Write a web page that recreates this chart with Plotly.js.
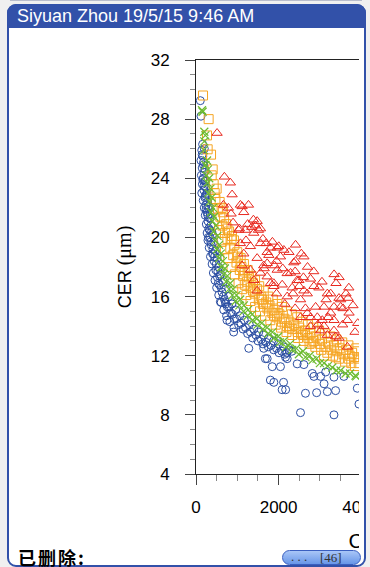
<!DOCTYPE html>
<html>
<head>
<meta charset="utf-8">
<script src="https://cdn.plot.ly/plotly-3.0.1.min.js"></script>
<style>
  html, body { margin:0; padding:0; }
  body { width:370px; height:567px; overflow:hidden; position:relative; background:#f0f0f0; font-family:'Liberation Sans', Arial, sans-serif; }
  #topline { position:absolute; left:10px; top:0px; width:352px; height:1px; background:#b9bdcc; }
  #panel { position:absolute; left:7px; top:4px; width:359px; height:563px; box-sizing:border-box; border:2px solid #3251a9; border-radius:9px; background:#fff; }
  #header { position:absolute; left:7px; top:4px; width:359px; height:24px; background:#3251a9; border-radius:9px 9px 0 0; color:#fff; font-size:18px; line-height:24px; padding-left:10px; box-sizing:border-box; white-space:nowrap; }
  #clip { position:absolute; left:0; top:0; width:359px; height:567px; overflow:hidden; }
  #chart { position:absolute; left:0; top:0; width:700px; height:567px; }
  #deleted { position:absolute; left:18px; top:548px; font-family:'Noto Sans CJK SC', sans-serif; font-weight:bold; font-size:18px; line-height:18px; letter-spacing:2px; color:#000; }
  #pill { position:absolute; left:282px; top:550px; width:79px; height:15px; box-sizing:border-box; border:1px solid #3a5fc0; border-radius:8px; background:linear-gradient(#a9c6f7,#6896e8); font-family:'Liberation Serif', serif; font-size:13px; line-height:13px; color:#333; }
</style>
</head>
<body>
<div id="topline"></div>
<div id="panel"></div>
<div id="header">Siyuan Zhou 19/5/15 9:46 AM</div>
<div id="clip"><div id="chart"></div></div>
<div id="deleted">已删除:</div>
<div id="pill"><span style="position:absolute;left:8px;top:-1px;">. . .</span><span style="position:absolute;left:37px;top:0px;">[46]</span></div>
<script>
// [x, y] pairs
const bluePoints = [
  [104,29.25],[121,28.2],[201,26.0],[150,25.6],
  [140,25.9],[165,25.5],[120,25.2],[180,24.9],[150,24.7],[200,24.4],[130,24.2],[175,24.0],[210,23.8],[155,23.6],
  [230,23.4],[190,23.2],[140,23.0],[250,22.9],[215,22.7],[175,22.5],[280,22.4],[240,22.2],[200,22.0],[310,21.9],
  [265,21.7],[225,21.5],[330,21.3],[290,21.1],[250,20.9],[360,20.8],[310,20.6],[270,20.3],[400,20.2],[340,20.0],
  [290,19.8],[430,19.7],[370,19.5],[320,19.3],[470,19.1],[400,18.9],[350,18.7],[510,18.6],[440,18.4],[390,18.2],
  [550,18.0],[480,17.8],[420,17.6],[600,17.5],[520,17.3],[460,17.1],[660,17.0],[570,16.8],[500,16.6],[720,16.5],
  [630,16.3],[550,16.1],[790,16.0],[690,15.8],[610,15.6],[870,15.5],[760,15.3],[670,15.1],[960,15.1],[840,14.9],
  [740,14.7],[1060,14.7],[930,14.5],[820,14.3],[1170,14.4],[1030,14.1],[920,13.9],[1290,14.1],[1140,13.8],[1400,13.8],
  [1250,13.5],[1520,13.6],[1370,13.2],[1640,13.4],[1500,13.0],[1760,13.2],[1620,12.8],[1880,13.0],[1750,12.6],[2000,12.8],
  [1880,12.4],[2120,12.6],[2010,12.2],[2250,12.4],[2150,12.1],
  [160,26.3],[185,25.1],[215,24.6],[165,23.9],[235,23.8],[195,23.5],[265,23.0],[225,22.8],[300,22.1],[245,21.9],
  [285,21.5],[345,21.6],[330,20.5],[380,20.4],[300,20.0],[360,19.7],[410,19.2],[450,18.7],[420,18.9],[490,18.2],
  [530,17.7],[570,17.4],[540,16.9],[610,16.6],[660,16.0],[720,15.5],[800,15.3],[880,14.8],[980,14.5],[1090,14.2],
  [1200,13.9],[1320,13.6],[1450,13.4],[1580,13.1],[1700,12.9],[1820,12.7],[1950,12.5],[2080,12.3],[2200,12.2],[2320,12.3],
  [590,15.65],[711,15.65],[750,14.4],[912,13.6],[1277,12.5],[1640,12.5],[1680,11.8],[1723,11.8],[1845,11.26],[2045,11.26],
  [2167,11.9],[2208,11.8],[2450,11.45],[2612,11.4],[2815,10.8],[2855,10.6],[3017,10.6],[3140,10.9],[3340,10.55],[3580,10.6],
  [3905,9.8],[1800,10.35],[1885,10.2],[2120,10.2],[2085,9.7],[2170,9.7],[2650,9.46],[2920,9.5],[3180,9.57],[3380,9.64],
  [3100,10.1],[2530,8.15],[3340,8.0],[3945,8.73]
];
const greenPoints = [
  [145,28.6],[160,28.5],[201,27.15],[226,26.9],[201,26.5],[190,25.9],[267,25.2],[230,24.9],[290,24.6],[250,24.2],
  [320,24.0],[280,23.7],[350,23.3],[300,23.0],[380,22.7],[330,22.4],[410,22.0],[360,21.7],[440,21.4],[400,21.1],
  [480,20.8],[430,20.4],[520,20.1],[470,19.8],[560,19.5],[510,19.2],[600,18.9],[560,18.6],[650,18.4],[610,18.0],
  [700,17.9],[670,17.5],[760,17.4],[730,17.0],[830,16.9],[800,16.5],[900,16.5],[880,16.1],[980,16.1],[960,15.7],
  [1070,15.8],[1050,15.4],[1160,15.4],[1150,15.0],[1260,15.1],[1250,14.7],[1360,14.8],[1370,14.4],[1470,14.5],[1490,14.1],
  [1590,14.2],[1620,13.8],[1720,13.9],[1750,13.5],[1850,13.6],[1890,13.2],[1990,13.3],[2030,12.9],[2130,13.0],[2180,12.6],
  [2280,12.8],[2330,12.4],[2430,12.5],[2490,12.1],[2590,12.3],[2650,11.9],[2750,12.0],[2820,11.7],[2920,11.8],[3000,11.5],
  [3100,11.5],[3190,11.3],[3300,11.2],[3400,11.0],[3500,11.0],[3620,10.8],[3730,10.8],[3860,10.65],[3880,10.6]
];
const orangePoints = [
  [170,29.6],[306,28.0],[267,26.9],[282,25.96],[364,25.6],[404,24.6],[428,23.6],[452,23.0],[380,24.2],[500,23.3],
  [470,22.6],[573,22.4],[530,21.9],[620,22.0],[590,21.4],[680,21.3],[640,20.8],[730,20.9],[560,20.5],[700,20.3],
  [800,20.4],[760,19.9],[620,19.7],[860,19.9],[830,19.3],[700,19.2],[930,19.5],[900,18.8],[780,18.6],[1000,19.0],
  [980,18.3],[860,18.0],[1080,18.6],[1060,17.8],[940,17.5],[1160,18.2],[1140,17.4],[1030,16.9],[1250,17.8],[1230,17.0],
  [1120,16.5],[1340,17.4],[1320,16.6],[1220,16.1],[1430,17.1],[1420,16.2],[1320,15.7],[1530,16.7],[1520,15.8],[1430,15.3],
  [1640,16.4],[1620,15.5],[1550,15.0],[1750,16.0],[1730,15.2],[1670,14.7],[1860,15.8],[1850,14.9],[1800,14.4],[1970,15.5],
  [1960,14.6],[1930,14.1],[2080,15.3],[2080,14.3],[2060,13.9],[2200,15.0],[2200,14.0],[2190,13.6],[2320,14.8],[2330,13.8],
  [2330,13.4],[2450,14.6],[2460,13.6],[2470,13.2],[2580,14.3],[2590,13.4],[2610,13.0],[2710,14.1],[2720,13.2],[2750,12.8],
  [2840,13.9],[2850,13.0],[2890,12.6],[2980,13.7],[3000,12.8],[3030,12.4],[3120,13.5],[3140,12.6],[3180,12.2],[3260,13.3],
  [3280,12.4],[3320,12.0],[3400,13.1],[3420,12.3],[3460,11.8],[3540,12.9],[3570,12.1],[3610,11.6],[3690,12.7],[3720,12.0],
  [3760,11.5],[3830,11.9],[3850,11.3],[3905,12.3],[3880,12.5],
  [650,21.7],[760,20.6],[870,20.1],[920,19.8],[1020,18.7],[1100,18.0],[1180,17.7],[1280,17.3],[1380,16.9],[1480,16.5],
  [1580,16.0],[1700,15.6],[1780,15.4],[1900,15.1],[2020,14.8],[2140,14.5],[2260,14.3],[2380,14.1],[2500,13.9],[2640,13.7],
  [2770,13.5],[2900,13.3],[3050,13.1],[3200,12.9],[3340,12.7],[3480,12.5],[3630,12.4],[3780,12.2],[3940,11.8],[1180,16.8],
  [1380,16.4],[1600,15.8],[1900,14.7],[2250,13.9],[2550,13.5],[2800,12.9],[3100,12.0],[3380,11.9],[3700,11.8],[3940,11.5]
];
const redPoints = [
  [510,27.06],[687,24.1],[832,23.7],[874,22.9],[663,22.2],[784,22.0],[850,21.6],[898,21.0],[1051,20.6],[1075,22.2],
  [1116,22.1],[1270,22.2],[1156,21.7],[1390,21.2],[1480,21.1],[1440,20.8],[1512,20.5],[1561,20.6],[1196,20.5],[1035,20.5],
  [1398,20.3],[1075,19.6],[1561,19.6],[1318,19.4],[1803,19.3],[1763,18.8],[1966,19.3],[1480,18.6],[1156,18.9],[1723,19.0],
  [1116,18.1],[1318,17.8],[1561,17.6],[1723,17.35],[1400,17.1],[1884,16.7],[1480,16.4],[2005,19.4],[2127,19.15],[2410,19.5],
  [2046,18.7],[2410,18.4],[2612,18.7],[2369,18.3],[1723,18.25],[1966,17.8],[2208,17.57],[2289,17.6],[2490,17.1],[2450,17.1],
  [2774,17.2],[2976,16.6],[2329,16.6],[2087,16.8],[1803,16.9],[1884,16.9],[2208,16.0],[2612,16.4],[2694,16.2],[2855,16.7],
  [3180,16.2],[3260,16.2],[3462,15.9],[3502,15.8],[3502,15.3],[3705,14.9],[3665,14.4],[3340,14.4],[2896,15.3],[3098,15.3],
  [3340,15.3],[2531,15.8],[2774,14.6],[2694,14.87],[2531,14.6],[2937,14.6],[3058,14.4],[3260,14.9],[3098,14.0],[2774,14.0],
  [3017,13.7],[3340,13.7],[3180,13.4],[3380,13.3],[3462,13.2],[3665,12.6],[3343,17.5],[3464,17.3],[3390,16.9],[3630,16.2],
  [3700,16.6],[3680,15.9],[3560,15.2],[3915,14.2],[1210,19.8],[1640,18.1],[1900,18.1],
  [1250,20.9],[1350,20.7],[1620,19.9],[1700,19.6],[1850,19.7],[2250,19.0],[2550,18.9],[2700,18.0],[1650,17.9],[1950,18.4],
  [2100,17.9],[2400,17.7],[2600,17.3],[2850,17.7],[3050,17.0],[2350,16.2],[2500,16.7],[3150,15.8],[2650,15.2],[2950,14.1],
  [3200,14.6],[3550,14.1],[3800,15.4],[3850,13.6],[1950,16.2],[2150,15.5],[2400,15.2]
];
const yTickVals = [4, 8, 12, 16, 20, 24, 28, 32];
const xTickVals = [0, 2000, 4000, 6000, 8000, 10000];

function xs(a){ return a.map(p => p[0]); }
function ys(a){ return a.map(p => p[1]); }

const traces = [
  { x: xs(bluePoints), y: ys(bluePoints), mode:'markers', type:'scatter', name:'blue',
    marker:{ symbol:'circle-open', size:8, color:'#2c4fa3', line:{ width:1, color:'#2c4fa3' } } },
  { x: xs(orangePoints), y: ys(orangePoints), mode:'markers', type:'scatter', name:'orange',
    marker:{ symbol:'square-open', size:9, color:'#f6a523', line:{ width:1, color:'#f6a523' } } },
  { x: xs(greenPoints), y: ys(greenPoints), mode:'markers', type:'scatter', name:'green',
    marker:{ symbol:'x-thin-open', size:8, color:'#6cbb2f', line:{ width:1.2, color:'#6cbb2f' } } },
  { x: xs(redPoints), y: ys(redPoints), mode:'markers', type:'scatter', name:'red',
    marker:{ symbol:'triangle-up-open', size:9, color:'#e8291f', line:{ width:1, color:'#e8291f' } } }
];

const layout = {
  width: 700, height: 567,
  margin: { l:196, r:74, t:60, b:93 },
  paper_bgcolor:'rgba(0,0,0,0)', plot_bgcolor:'rgba(0,0,0,0)',
  showlegend:false,
  font:{ family:'Liberation Sans, Arial, sans-serif', size:17, color:'#000' },
  xaxis:{
    range:[0,10410], tickmode:'array', tickvals:xTickVals, ticktext:xTickVals.map(String),
    ticks:'outside', ticklen:10, tickwidth:1, tickcolor:'#444',
    showline:true, linecolor:'#222', linewidth:1, mirror:true,
    showgrid:false, zeroline:false, ticklabelstandoff:8,
    minor:{ dtick:500, tick0:0, ticks:'outside', ticklen:6, tickwidth:1, tickcolor:'#888', showgrid:false },
    tickfont:{ size:17 },
    title:{ text:'CDNC (cm<sup>−3</sup>)', font:{ size:21 }, standoff:16 },
    automargin:false
  },
  yaxis:{
    range:[4,32], tickmode:'array', tickvals:yTickVals, ticktext:yTickVals.map(String),
    ticks:'outside', ticklen:10, tickwidth:1, tickcolor:'#444',
    showline:true, linecolor:'#222', linewidth:1, mirror:false,
    showgrid:false, zeroline:false, ticklabelstandoff:12,
    minor:{ dtick:1, tick0:0, ticks:'outside', ticklen:5, tickwidth:1, tickcolor:'#888', showgrid:false },
    tickfont:{ size:17 },
    title:{ text:'CER <span style="font-family:Liberation Serif;font-size:20px">(μm)</span>', font:{ size:18 }, standoff:14 },
    automargin:false
  }
};

Plotly.newPlot('chart', traces, layout, { staticPlot:true, displayModeBar:false });
</script>
</body>
</html>
